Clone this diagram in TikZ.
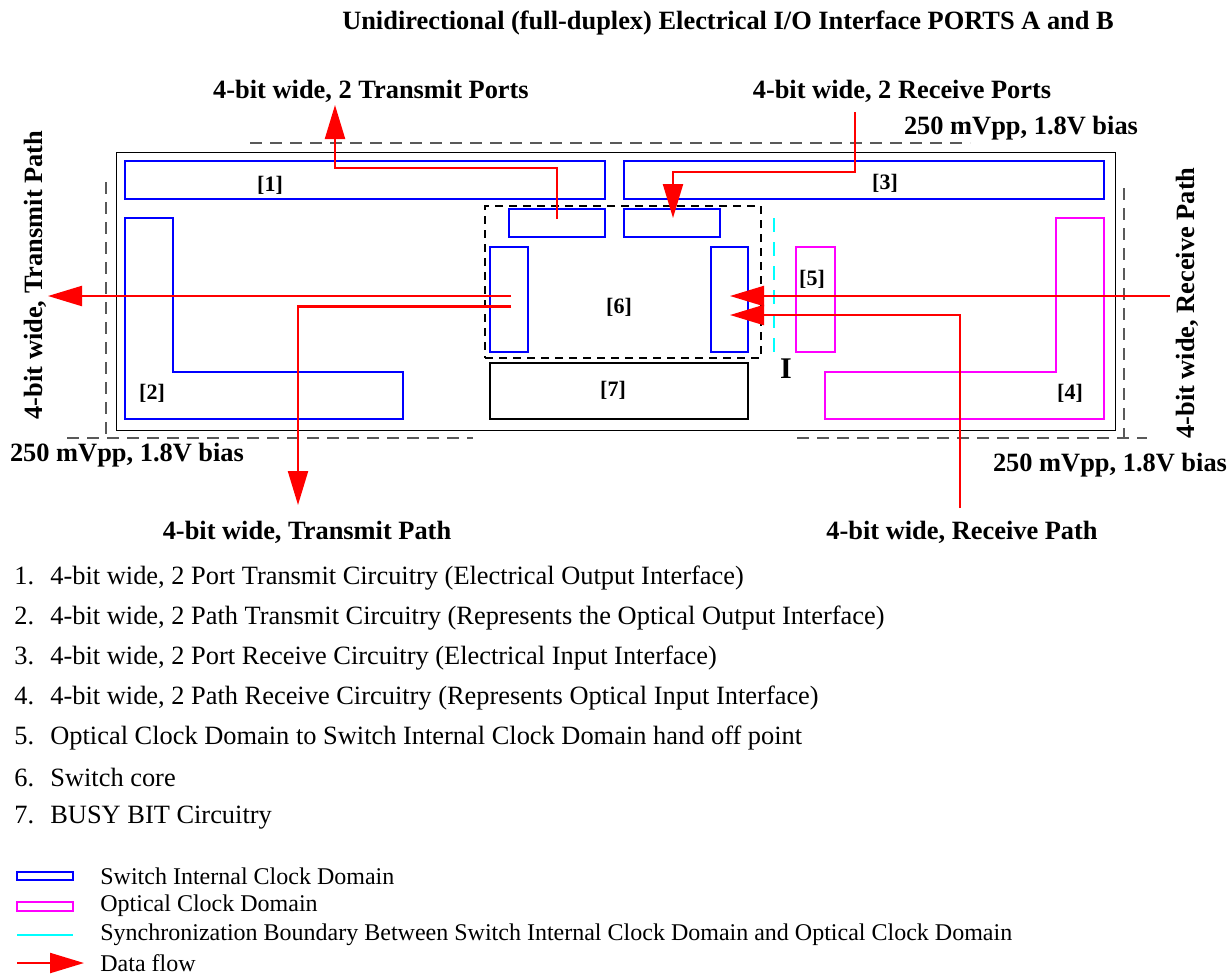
\documentclass[tikz,border=0pt]{standalone}
\usepackage{fontspec}
\setmainfont{Liberation Serif}
\usetikzlibrary{arrows.meta,calc}

\definecolor{swblue}{RGB}{0,0,255}
\definecolor{optmag}{RGB}{255,0,255}
\definecolor{synccyan}{RGB}{0,255,255}
\definecolor{flowred}{RGB}{255,0,0}

\begin{document}
\begin{tikzpicture}[
    x=0.5pt, y=-0.5pt,
    % Switch internal clock domain: blue
    swbox/.style={
        rectangle, draw=swblue, line width=1.4pt, inner sep=0pt
    },
    % Optical clock domain: magenta
    optbox/.style={
        rectangle, draw=optmag, line width=1.4pt, inner sep=0pt
    },
    busybox/.style={
        rectangle, draw=black, line width=1.2pt, inner sep=0pt
    },
    corebox/.style={
        rectangle, draw=black, line width=1pt, dash pattern=on 4pt off 3pt, inner sep=0pt
    },
    frame/.style={
        rectangle, draw=black, line width=0.45pt, inner sep=0pt
    },
    bias/.style={
        black!65, line width=0.6pt, dash pattern=on 6pt off 4pt
    },
    sync/.style={
        synccyan, line width=1.3pt, dash pattern=on 7pt off 5pt
    },
    % Data flow: red with a big filled head
    flow/.style={
        -{Triangle[length=17pt, width=10pt]}, line width=1.1pt, flowred
    },
    lbl/.style={
        font=\fontsize{13.2}{15}\selectfont\bfseries, inner sep=0pt
    },
    tag/.style={
        font=\fontsize{11}{13}\selectfont\bfseries, inner sep=0pt
    },
    item/.style={
        font=\fontsize{13.2}{15}\selectfont, anchor=west, inner sep=0pt
    },
    key/.style={
        font=\fontsize{12}{14}\selectfont, anchor=west, inner sep=0pt
    }
]
\useasboundingbox (0,0) rectangle (1231,976);

% === Labels round the chip ===
\node[lbl] (title)  at (728,23)  {Unidirectional (full-duplex) Electrical I/O Interface PORTS A and B};
\node[lbl] (txports) at (371,91) {4-bit wide, 2 Transmit Ports};
\node[lbl] (rxports) at (902,91) {4-bit wide, 2 Receive Ports};
\node[lbl] (biasT) at (1021,128) {250 mVpp, 1.8V bias};
\node[lbl] (biasL) at (127,455)  {250 mVpp, 1.8V bias};
\node[lbl] (biasR) at (1110,465) {250 mVpp, 1.8V bias};
\node[lbl, rotate=90] (txside) at (35,275)   {4-bit wide, Transmit Path};
\node[lbl, rotate=90] (rxside) at (1187,303) {4-bit wide, Receive Path};
\node[lbl] (txpath) at (307,532) {4-bit wide, Transmit Path};
\node[lbl] (rxpath) at (962,532) {4-bit wide, Receive Path};

% === Bias boundaries ===
\draw[bias] (250,143) -- (970,143);
\draw[bias] (106,182) -- (106,438);
\draw[bias] (67,438) -- (473,438);
\draw[bias] (1124,188) -- (1124,438);
\draw[bias] (797,438) -- (1147,438);

% === Chip ===
\node[frame, minimum width=499.5pt, minimum height=139pt] (chip) at (615.5,291) {};

% [1] and [3]: port circuitry
\node[swbox, minimum width=240pt, minimum height=19pt] (txcirc) at (365,180) {};
\node[tag] at (270,185) {[1]};
\node[swbox, minimum width=240pt, minimum height=19pt] (rxcirc) at (864,180) {};
\node[tag] at (885,183) {[3]};

% [2]: transmit path circuitry (L shape)
\draw[swblue, line width=1.4pt] (125,218) -- (173,218) -- (173,372) -- (403,372)
    -- (403,419) -- (125,419) -- cycle;
\node[tag] (tag2) at (152,393) {[2]};

% [4]: receive path circuitry (L shape)
\draw[optmag, line width=1.4pt] (1056,218) -- (1104,218) -- (1104,419) -- (825,419)
    -- (825,372) -- (1056,372) -- cycle;
\node[tag] (tag4) at (1070,393) {[4]};

% [6]: switch core
\node[corebox, minimum width=138pt, minimum height=76pt] (core) at (623,282) {};
\node[tag] at (619,307) {[6]};
\node[swbox, minimum width=48pt, minimum height=14pt] (txp) at (557,223) {};
\node[swbox, minimum width=48pt, minimum height=14pt] (rxp) at (672,223) {};
\node[swbox, minimum width=19pt, minimum height=52.5pt] (txq) at (509,299.5) {};
\node[swbox, minimum width=18.5pt, minimum height=52.5pt] (rxq) at (729.5,299.5) {};

% [7]: busy bit circuitry
\node[busybox, minimum width=129pt, minimum height=28pt] (busy) at (619,391) {};
\node[tag] at (613,390) {[7]};

% [5]: hand off point and sync boundary
\node[optbox, minimum width=19.5pt, minimum height=52.5pt] (handoff) at (815.5,299.5) {};
\node[tag] at (812,279) {[5]};
\draw[sync] (774,218) -- (774,360);
\node[font=\fontsize{15}{17}\selectfont\bfseries, inner sep=0pt] (bnd) at (786,369) {I};

% === Data flow ===
\coordinate (txU) at (335,105);
\coordinate (rxU) at (855,112);
\coordinate (txL) at (48,296);
\coordinate (txD) at (298,505);
\coordinate (rxR) at (1170,296);
\coordinate (rxD) at (960,508);

\draw[flow] ($(txp.center)+(0,-4)$) -- ++(0,-51) -| (txU);
\draw[flow] (rxU) -- ++(0,60) -| ($(rxp.center)+(1,-5)$);
\draw[flow] ($(txq.center)+(2,-3.5)$) -- (txL);
\draw[flow] ($(txq.center)+(2,7)$) -| (txD);
\draw[flow] (rxR) -- ($(rxq.center)+(0.5,-3.5)$);
\draw[flow] (rxD) |- ($(rxq.center)+(0.5,15.5)$);

% === List ===
\node[item] (li1) at (14,578) {\makebox[18pt][l]{1.}4-bit wide, 2 Port Transmit Circuitry (Electrical Output Interface)};
\node[item] (li2) at (14,618) {\makebox[18pt][l]{2.}4-bit wide, 2 Path Transmit Circuitry (Represents the Optical Output Interface)};
\node[item] (li3) at (14,658) {\makebox[18pt][l]{3.}4-bit wide, 2 Port Receive Circuitry (Electrical Input Interface)};
\node[item] (li4) at (14,698) {\makebox[18pt][l]{4.}4-bit wide, 2 Path Receive Circuitry (Represents Optical Input Interface)};
\node[item] (li5) at (14,738) {\makebox[18pt][l]{5.}Optical Clock Domain to Switch Internal Clock Domain hand off point};
\node[item] (li6) at (14,778) {\makebox[18pt][l]{6.}Switch core};
\node[item] (li7) at (14,818) {\makebox[18pt][l]{7.}BUSY BIT Circuitry};

% === Legend ===
\node[swbox, line width=1.1pt, minimum width=28pt, minimum height=4pt] (keysw) at (45,876) {};
\node[key] at (100,876) {Switch Internal Clock Domain};
\node[optbox, line width=1.1pt, minimum width=28pt, minimum height=4.5pt] (keyopt) at (45,906.5) {};
\node[key] at (100,906) {Optical Clock Domain};
\draw[sync, solid] (17,935) -- (73,935);
\node[key] at (100,935) {Synchronization Boundary Between Switch Internal Clock Domain and Optical Clock Domain};
\draw[flow] (17,963) -- (84,963);
\node[key] at (100,963) {Data flow};

\end{tikzpicture}
\end{document}
